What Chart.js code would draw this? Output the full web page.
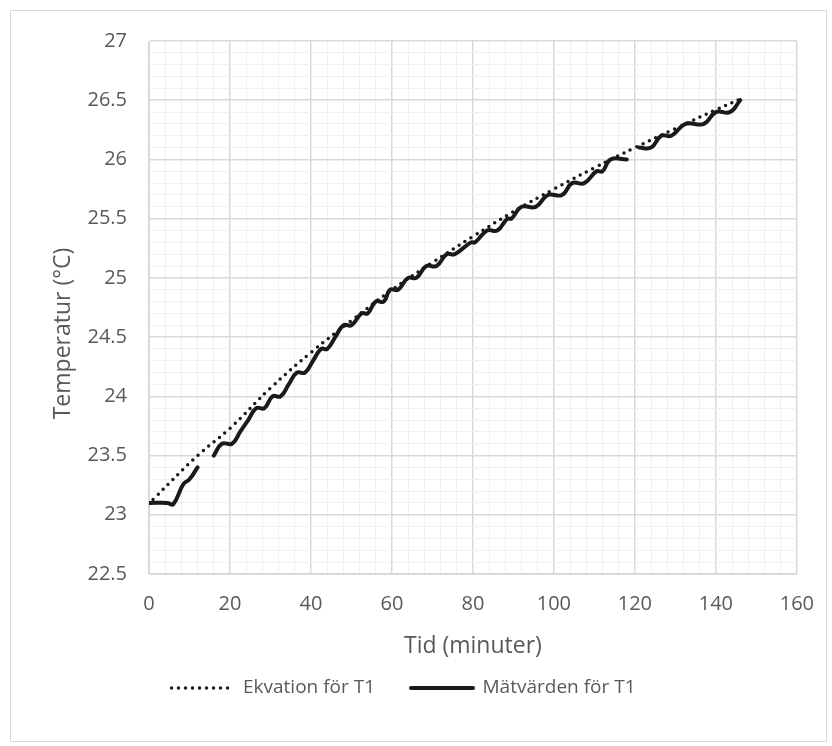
<!DOCTYPE html>
<html>
<head>
<meta charset="utf-8">
<title>Temperatur T1</title>
<script src="https://cdn.jsdelivr.net/npm/chart.js@4/dist/chart.umd.min.js"></script>
<style>
  html, body { margin: 0; padding: 0; background: #fff; }
  #wrap { position: relative; width: 832px; height: 746px; }
  #frame {
    position: absolute; left: 10px; top: 10px; width: 815px; height: 730px;
    border: 1px solid #d9d9d9; pointer-events: none;
  }
</style>
</head>
<body>
<div id="wrap">
  <canvas id="canvas"></canvas>
  <div id="frame"></div>
</div>

<script>
// Mätvärden för T1 (null = avbrott i kurvan)
var matTid  = [0, 4.5, 6, 8.5, 10, 12, 14,
               16, 18, 20.5, 22.5, 24.5, 26.5, 28.5, 30.5, 32.5, 34.5, 36.5, 38.5, 40.5,
               42.5, 44, 46, 48, 50, 52.5, 54, 56, 58, 59.5, 61.5, 64, 66, 68.5, 71,
               73.5, 75.5, 79.5, 80.5, 83.5, 86, 88.5, 89.5, 92, 95.5, 98.5, 102,
               104.5, 107.5, 110.5, 112, 114, 118, 119.5,
               121, 124, 126.5, 129, 132.5, 137, 140, 143.5, 146];
var matTemp = [23.1, 23.1, 23.09, 23.26, 23.3, 23.4, null,
               23.5, 23.6, 23.6, 23.7, 23.8, 23.9, 23.9, 24.0, 24.0, 24.1, 24.2, 24.2, 24.3,
               24.4, 24.4, 24.5, 24.6, 24.6, 24.7, 24.7, 24.8, 24.8, 24.9, 24.9, 25.0, 25.0, 25.1, 25.1,
               25.2, 25.2, 25.3, 25.3, 25.4, 25.4, 25.5, 25.5, 25.6, 25.6, 25.7, 25.7,
               25.8, 25.8, 25.9, 25.9, 26.0, 26.0, null,
               26.1, 26.1, 26.2, 26.2, 26.3, 26.3, 26.4, 26.4, 26.5];

// Ekvation för T1
var ekvTid  = [1, 12, 20, 30, 40, 50, 60, 70, 80, 90, 100, 110, 120, 130, 140, 146];
var ekvTemp = [23.13, 23.5, 23.73, 24.07, 24.37, 24.64, 24.9, 25.13, 25.35, 25.56, 25.75, 25.93, 26.1, 26.26, 26.42, 26.51];

var xMin = 0, xMax = 160, xMajor = 20, xMinor = 4;
var yMin = 22.5, yMax = 27, yMajor = 0.5, yMinor = 0.1;
var yTitle = 'Temperatur (°C)';

var textColor = '#595959';
var majorGrid = '#d9d9d9';
var minorGrid = '#f0f0f0';

function toPoints(xs, ys) {
  return xs.map(function (x, i) { return { x: x, y: ys[i] }; });
}

function isMultiple(v, step) {
  var r = v / step;
  return Math.abs(r - Math.round(r)) < 1e-6;
}

// y-axelns titel ritas själv så att den kan ligga som i Excel
var yTitlePlugin = {
  id: 'yTitle',
  afterDraw: function (chart) {
    var a = chart.chartArea, c = chart.ctx;
    c.save();
    c.translate(a.left - 86, (a.top + a.bottom) / 2 + 26);
    c.rotate(-Math.PI / 2);
    c.font = '23px "Open Sans"';
    c.fillStyle = textColor;
    c.textAlign = 'center';
    c.textBaseline = 'middle';
    c.fillText(yTitle, 0, 0);
    c.restore();
  }
};

var config = {
  type: 'line',
  data: {
    datasets: [
      {
        label: 'Ekvation för T1',
        data: toPoints(ekvTid, ekvTemp),
        borderColor: '#1a1a1a',
        backgroundColor: '#1a1a1a',
        borderWidth: 3.5,
        borderDash: [0, 7],
        borderCapStyle: 'round',
        pointRadius: 0,
        tension: 0.4,
        fill: false
      },
      {
        label: 'Mätvärden för T1',
        data: toPoints(matTid, matTemp),
        borderColor: '#1a1a1a',
        backgroundColor: '#1a1a1a',
        borderWidth: 4,
        borderCapStyle: 'round',
        pointRadius: 0,
        tension: 0.45,
        spanGaps: false,
        fill: false
      }
    ]
  },
  options: {
    responsive: true,
    maintainAspectRatio: false,
    animation: false,
    layout: { padding: { left: 10, right: 35, top: 41, bottom: 38.5 } },
    plugins: {
      tooltip: { enabled: false },
      legend: {
        position: 'bottom',
        labels: {
          usePointStyle: true,
          pointStyleWidth: 62,
          padding: 36,
          color: textColor,
          font: { family: 'Open Sans', size: 19 },
          generateLabels: function (chart) {
            return chart.data.datasets.map(function (ds, i) {
              return {
                text: ds.label,
                datasetIndex: i,
                fillStyle: ds.borderColor,
                strokeStyle: ds.borderColor,
                lineWidth: ds.borderWidth,
                lineDash: ds.borderDash || [],
                lineCap: ds.borderCapStyle,
                pointStyle: 'line',
                fontColor: textColor,
                hidden: false
              };
            });
          }
        }
      }
    },
    scales: {
      x: {
        type: 'linear',
        min: xMin,
        max: xMax,
        border: { color: majorGrid },
        grid: {
          drawTicks: false,
          color: function (c) { return isMultiple(c.tick.value, xMajor) ? majorGrid : minorGrid; },
          lineWidth: function (c) { return isMultiple(c.tick.value, xMajor) ? 1.5 : 1; }
        },
        ticks: {
          stepSize: xMinor,
          autoSkip: false,
          maxRotation: 0,
          padding: 18,
          color: textColor,
          font: { family: 'Open Sans', size: 20 },
          callback: function (v) { return isMultiple(v, xMajor) ? String(v) : ''; }
        },
        title: {
          display: true,
          text: 'Tid (minuter)',
          color: textColor,
          font: { family: 'Open Sans', size: 23 },
          padding: { top: 0, bottom: -17.5 }
        },
        afterFit: function (s) { s.height = 68.5; }
      },
      y: {
        min: yMin,
        max: yMax,
        border: { color: majorGrid },
        grid: {
          drawTicks: false,
          color: function (c) { return isMultiple(c.tick.value, yMajor) ? majorGrid : minorGrid; },
          lineWidth: function (c) { return isMultiple(c.tick.value, yMajor) ? 1.5 : 1; }
        },
        ticks: {
          stepSize: yMinor,
          autoSkip: false,
          padding: 22,
          color: textColor,
          font: { family: 'Open Sans', size: 20 },
          callback: function (v) {
            return isMultiple(v, yMajor) ? String(Math.round(v * 10) / 10) : '';
          }
        },
        afterFit: function (s) { s.width = 139; }
      }
    }
  },
  plugins: [yTitlePlugin]
};

var ctx = document.getElementById('canvas').getContext('2d');
new Chart(ctx, config);
</script>
</body>
</html>
